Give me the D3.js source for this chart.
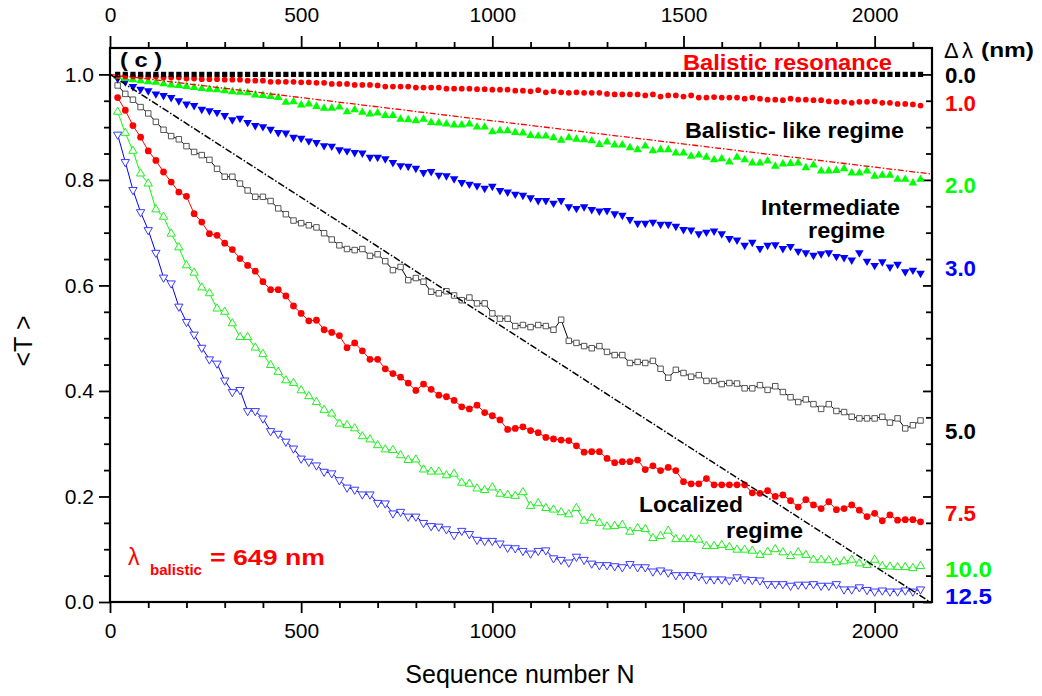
<!DOCTYPE html>
<html>
<head>
<meta charset="utf-8">
<script src="https://cdn.jsdelivr.net/npm/d3@7"></script>
<style>
  body { margin: 0; background: #fff; }
  text { font-family: "Liberation Sans", Arial, sans-serif; }
</style>
</head>
<body>
<div id="chart"></div>
<script>
// sequence numbers of the sampled points (every 20th sequence)
var seqNumbers = d3.range(20, 2121, 20);

// <T> for each detuning (nm)
var t00 = [
  1,1,1,1,1,1,1,1,1,1, 1,1,1,1,1,1,1,1,1,1, 1,1,1,1,1,1,1,1,1,1,
  1,1,1,1,1,1,1,1,1,1, 1,1,1,1,1,1,1,1,1,1, 1,1,1,1,1,1,1,1,1,1,
  1,1,1,1,1,1,1,1,1,1, 1,1,1,1,1,1,1,1,1,1, 1,1,1,1,1,1,1,1,1,1,
  1,1,1,1,1,1,1,1,1,1, 1,1,1,1,1,1
];
var t10 = [
  0.997,0.996,0.996,0.996,0.996,0.996,0.994,0.994,0.994,0.992,
  0.992,0.991,0.991,0.991,0.990,0.990,0.990,0.988,0.988,0.988,
  0.986,0.986,0.986,0.986,0.985,0.985,0.984,0.984,0.982,0.982,
  0.982,0.980,0.980,0.980,0.979,0.977,0.977,0.977,0.977,0.975,
  0.975,0.975,0.975,0.973,0.973,0.973,0.973,0.972,0.972,0.971,
  0.971,0.971,0.969,0.969,0.968,0.970,0.966,0.968,0.966,0.965,
  0.966,0.965,0.965,0.965,0.963,0.962,0.962,0.962,0.962,0.960,
  0.962,0.958,0.960,0.960,0.958,0.960,0.956,0.956,0.957,0.956,
  0.956,0.956,0.954,0.956,0.954,0.952,0.952,0.951,0.954,0.952,
  0.952,0.951,0.951,0.949,0.948,0.948,0.946,0.948,0.948,0.949,
  0.946,0.946,0.944,0.944,0.943,0.941
];
var t20 = [
  0.996,0.992,0.990,0.988,0.986,0.985,0.982,0.980,0.979,0.977,
  0.975,0.973,0.972,0.971,0.969,0.967,0.966,0.965,0.961,0.960,
  0.958,0.956,0.947,0.948,0.942,0.944,0.939,0.936,0.936,0.938,
  0.929,0.933,0.928,0.925,0.927,0.922,0.922,0.915,0.914,0.912,
  0.915,0.909,0.908,0.906,0.904,0.904,0.906,0.900,0.900,0.891,
  0.893,0.893,0.890,0.889,0.884,0.883,0.883,0.880,0.875,0.880,
  0.877,0.876,0.874,0.867,0.872,0.866,0.866,0.861,0.857,0.864,
  0.855,0.857,0.857,0.851,0.851,0.845,0.847,0.843,0.838,0.840,
  0.834,0.843,0.838,0.832,0.832,0.836,0.826,0.830,0.831,0.832,
  0.823,0.828,0.817,0.817,0.818,0.821,0.813,0.813,0.817,0.807,
  0.809,0.809,0.801,0.801,0.794,0.801
];
var t30 = [
  0.992,0.986,0.977,0.972,0.969,0.963,0.960,0.956,0.950,0.944,
  0.941,0.934,0.931,0.928,0.922,0.914,0.917,0.909,0.903,0.901,
  0.896,0.890,0.889,0.881,0.879,0.874,0.871,0.865,0.864,0.857,
  0.855,0.852,0.851,0.843,0.843,0.840,0.833,0.827,0.826,0.822,
  0.814,0.816,0.809,0.808,0.802,0.795,0.792,0.789,0.784,0.788,
  0.780,0.777,0.773,0.771,0.766,0.761,0.761,0.756,0.761,0.749,
  0.746,0.749,0.744,0.741,0.742,0.736,0.733,0.725,0.718,0.718,
  0.720,0.716,0.716,0.712,0.706,0.705,0.698,0.701,0.703,0.698,
  0.689,0.686,0.676,0.682,0.670,0.676,0.677,0.670,0.674,0.665,
  0.662,0.657,0.660,0.662,0.655,0.653,0.648,0.662,0.646,0.638,
  0.645,0.635,0.640,0.626,0.629,0.623
];
var t50 = [
  0.979,0.963,0.952,0.938,0.926,0.910,0.895,0.883,0.877,0.864,
  0.853,0.847,0.838,0.821,0.806,0.806,0.793,0.780,0.768,0.768,
  0.760,0.746,0.735,0.723,0.718,0.714,0.710,0.699,0.687,0.676,
  0.669,0.667,0.669,0.656,0.659,0.646,0.629,0.635,0.610,0.614,
  0.607,0.588,0.585,0.589,0.581,0.572,0.577,0.566,0.566,0.547,
  0.537,0.537,0.523,0.525,0.521,0.525,0.523,0.516,0.535,0.495,
  0.491,0.485,0.481,0.485,0.474,0.468,0.468,0.453,0.455,0.453,
  0.457,0.442,0.425,0.440,0.434,0.427,0.430,0.419,0.419,0.413,
  0.415,0.414,0.405,0.405,0.411,0.402,0.409,0.398,0.388,0.379,
  0.384,0.375,0.366,0.375,0.362,0.360,0.351,0.348,0.348,0.348,
  0.351,0.340,0.348,0.329,0.335,0.344
];
var t75 = [
  0.956,0.932,0.903,0.881,0.855,0.837,0.815,0.796,0.777,0.769,
  0.736,0.720,0.698,0.695,0.680,0.668,0.651,0.638,0.627,0.607,
  0.592,0.592,0.580,0.561,0.547,0.533,0.534,0.516,0.511,0.505,
  0.482,0.491,0.476,0.460,0.460,0.442,0.433,0.426,0.415,0.401,
  0.413,0.403,0.392,0.389,0.382,0.370,0.366,0.373,0.359,0.353,
  0.345,0.327,0.329,0.332,0.325,0.321,0.312,0.309,0.307,0.306,
  0.296,0.284,0.285,0.285,0.272,0.264,0.266,0.266,0.269,0.251,
  0.258,0.249,0.255,0.249,0.228,0.224,0.224,0.234,0.222,0.222,
  0.222,0.222,0.222,0.207,0.206,0.211,0.200,0.203,0.192,0.180,
  0.194,0.184,0.177,0.190,0.175,0.177,0.184,0.174,0.162,0.168,
  0.154,0.165,0.155,0.156,0.156,0.152
];
var t100 = [
  0.929,0.889,0.855,0.812,0.793,0.744,0.730,0.698,0.672,0.638,
  0.624,0.596,0.585,0.556,0.550,0.528,0.502,0.502,0.482,0.470,
  0.449,0.436,0.420,0.415,0.401,0.390,0.379,0.364,0.357,0.338,
  0.335,0.329,0.314,0.308,0.297,0.289,0.288,0.278,0.269,0.270,
  0.251,0.247,0.247,0.240,0.243,0.226,0.224,0.215,0.212,0.217,
  0.205,0.203,0.201,0.208,0.182,0.187,0.178,0.175,0.170,0.166,
  0.178,0.154,0.159,0.150,0.143,0.144,0.146,0.133,0.140,0.138,
  0.121,0.125,0.135,0.119,0.119,0.119,0.118,0.106,0.106,0.108,
  0.104,0.099,0.099,0.097,0.089,0.095,0.100,0.094,0.087,0.094,
  0.089,0.080,0.080,0.079,0.075,0.077,0.080,0.073,0.070,0.080,
  0.068,0.067,0.066,0.066,0.064,0.068
];
var t125 = [
  0.886,0.834,0.781,0.739,0.705,0.662,0.615,0.604,0.560,0.531,
  0.507,0.482,0.460,0.452,0.420,0.398,0.402,0.362,0.362,0.348,
  0.324,0.319,0.304,0.291,0.272,0.266,0.259,0.247,0.244,0.231,
  0.217,0.213,0.204,0.204,0.188,0.187,0.168,0.171,0.162,0.162,
  0.150,0.144,0.143,0.138,0.127,0.135,0.129,0.118,0.116,0.116,
  0.111,0.103,0.102,0.097,0.092,0.097,0.098,0.083,0.080,0.075,
  0.086,0.080,0.073,0.070,0.070,0.068,0.066,0.072,0.066,0.066,
  0.058,0.060,0.056,0.051,0.051,0.051,0.049,0.043,0.043,0.043,
  0.041,0.047,0.043,0.042,0.041,0.034,0.034,0.034,0.031,0.033,
  0.033,0.034,0.031,0.031,0.034,0.024,0.024,0.028,0.023,0.020,
  0.022,0.020,0.020,0.022,0.020,0.024
];

// straight reference lines (end points)
var ballisticLine = [[0, 1.0], [2150, 0.811]];
var localizedLine = [[0, 1.0], [2145, 0.0]];

// detuning labels on the right
var detuningLabels = ["0.0", "1.0", "2.0", "3.0", "5.0", "7.5", "10.0", "12.5"];

// axis ticks
var xMajorTicks = [0, 500, 1000, 1500, 2000];
var xMinorTicks = [100, 200, 300, 400, 600, 700, 800, 900, 1100, 1200, 1300, 1400, 1600, 1700, 1800, 1900, 2100];
var yMajorTicks = [0.0, 0.2, 0.4, 0.6, 0.8, 1.0];
var yMinorTicks = [0.05, 0.1, 0.15, 0.25, 0.3, 0.35, 0.45, 0.5, 0.55, 0.65, 0.7, 0.75, 0.85, 0.9, 0.95];

var RED = "#ff0000", GREEN = "#00ff00", BLUE = "#0000ff";

var svgWidth = 1042, svgHeight = 696;
var margin = {top: 48, right: 110, bottom: 94, left: 110};

var svg = d3.select("#chart").append("svg")
    .attr("width", svgWidth)
    .attr("height", svgHeight);

var x = d3.scaleLinear().domain([0, 2150]).range([margin.left, svgWidth - margin.right]);
var y = d3.scaleLinear().domain([0, 1.05]).range([svgHeight - margin.bottom, margin.top]);

var font = "'Liberation Sans', Arial, sans-serif";

function styleAxis(g, fontSize) {
    g.select(".domain").remove();
    g.selectAll("line").attr("stroke", "#000").attr("stroke-width", 1.8);
    g.selectAll("text").attr("font-family", font).attr("font-size", fontSize).attr("fill", "#000");
}

// axes: ticks outward on left, bottom and top; inward on the right
svg.append("g").attr("transform", "translate(0," + y(0) + ")")
    .call(d3.axisBottom(x).tickValues(xMajorTicks).tickSize(11).tickPadding(10).tickFormat(d3.format("d")))
    .call(styleAxis, 21);
svg.append("g").attr("transform", "translate(0," + y(0) + ")")
    .call(d3.axisBottom(x).tickValues(xMinorTicks).tickSize(6).tickFormat(""))
    .call(styleAxis, 21);
svg.append("g").attr("transform", "translate(0," + margin.top + ")")
    .call(d3.axisTop(x).tickValues(xMajorTicks).tickSize(12).tickPadding(14).tickFormat(d3.format("d")))
    .call(styleAxis, 21);
svg.append("g").attr("transform", "translate(0," + margin.top + ")")
    .call(d3.axisTop(x).tickValues(xMinorTicks).tickSize(6).tickFormat(""))
    .call(styleAxis, 21);
svg.append("g").attr("transform", "translate(" + margin.left + ",0)")
    .call(d3.axisLeft(y).tickValues(yMajorTicks).tickSize(11).tickPadding(5).tickFormat(d3.format(".1f")))
    .call(styleAxis, 21);
svg.append("g").attr("transform", "translate(" + margin.left + ",0)")
    .call(d3.axisLeft(y).tickValues(yMinorTicks).tickSize(6).tickFormat(""))
    .call(styleAxis, 21);
svg.append("g").attr("transform", "translate(" + x.range()[1] + ",0)")
    .call(d3.axisRight(y).tickValues(yMajorTicks).tickSize(-9).tickFormat(""))
    .call(styleAxis, 21);
svg.append("g").attr("transform", "translate(" + x.range()[1] + ",0)")
    .call(d3.axisRight(y).tickValues(yMinorTicks).tickSize(-6).tickFormat(""))
    .call(styleAxis, 21);

// frame
svg.append("rect")
    .attr("x", x.range()[0]).attr("y", y.range()[1])
    .attr("width", x.range()[1] - x.range()[0])
    .attr("height", y.range()[0] - y.range()[1])
    .attr("fill", "none").attr("stroke", "#000").attr("stroke-width", 2.2);

// series, drawn from the bottom curve up
var series = [
    {values: t125, color: BLUE, stroke: "#3a3aff", shape: d3.symbolTriangle, size: 30, flip: true, hollow: true, joined: true},
    {values: t100, color: GREEN, stroke: "#22ee22", shape: d3.symbolTriangle, size: 30, flip: false, hollow: true, joined: true},
    {values: t75, color: RED, stroke: RED, shape: d3.symbolCircle, size: 36, flip: false, hollow: false, joined: true},
    {values: t50, color: "#000", stroke: "#555", shape: d3.symbolSquare, size: 30, flip: false, hollow: true, joined: true},
    {values: t30, color: BLUE, stroke: BLUE, shape: d3.symbolTriangle, size: 32, flip: true, hollow: false, joined: false},
    {values: t20, color: GREEN, stroke: GREEN, shape: d3.symbolTriangle, size: 32, flip: false, hollow: false, joined: false},
    {values: t10, color: RED, stroke: RED, shape: d3.symbolCircle, size: 26, flip: false, hollow: false, joined: false},
    {values: t00, color: "#000", stroke: "#000", shape: d3.symbolSquare, size: 27, flip: false, hollow: false, joined: false}
];

var line = d3.line()
    .x(function(d) { return x(d[0]); })
    .y(function(d) { return y(d[1]); });

var plot = svg.append("g");

series.forEach(function(s) {
    var pts = seqNumbers.map(function(n, i) { return [n, s.values[i]]; });
    if (s.joined) {
        plot.append("path")
            .datum(pts)
            .attr("d", line)
            .attr("fill", "none")
            .attr("stroke", s.color)
            .attr("stroke-width", 1);
    }
    plot.append("g").selectAll("path")
        .data(pts)
        .enter()
        .append("path")
        .attr("d", d3.symbol().type(s.shape).size(s.size))
        .attr("transform", function(d) {
            return "translate(" + x(d[0]) + "," + y(d[1]) + ")" + (s.flip ? " rotate(180)" : "");
        })
        .attr("fill", s.hollow ? "#fff" : s.color)
        .attr("stroke", s.hollow ? s.stroke : "none")
        .attr("stroke-width", 1);
});

// dash-dot reference lines
plot.append("path").datum(ballisticLine).attr("d", line)
    .attr("fill", "none").attr("stroke", RED).attr("stroke-width", 1.3)
    .attr("stroke-dasharray", "6,2,1.5,2");
plot.append("path").datum(localizedLine).attr("d", line)
    .attr("fill", "none").attr("stroke", "#000").attr("stroke-width", 1.5)
    .attr("stroke-dasharray", "7,2,1.5,2");

// annotations
function label(txt, px, py, size, color, width, weight) {
    var t = svg.append("text")
        .attr("x", px).attr("y", py)
        .attr("font-family", font)
        .attr("font-size", size)
        .attr("font-weight", weight || "bold")
        .attr("fill", color)
        .text(txt);
    if (width) t.attr("textLength", width).attr("lengthAdjust", "spacingAndGlyphs");
    return t;
}

label("( c )", 120, 67, 20, "#000", 42);
label("Balistic resonance", 683, 70, 22, RED, 209);
label("Balistic- like regime", 685, 138, 22, "#000", 219);
label("Intermediate", 761, 215, 22, "#000", 139);
label("regime", 808, 238, 22, "#000", 77);
label("Localized", 639, 512, 22, "#000", 104);
label("regime", 726, 538, 22, "#000", 77);
label("\u03bb", 128, 565, 23, RED, null, "normal");
label("balistic", 150, 575, 15, RED, 52);
label("= 649 nm", 210, 565, 22, RED, 115);

// right side legend
label("\u0394", 944, 58, 22, "#000", null, "normal");
label("\u03bb", 962, 58, 22, "#000", null, "normal");
label("(nm)", 981, 57, 21, "#000", 53);

var labelColors = ["#000", RED, GREEN, BLUE, "#000", RED, GREEN, BLUE];
var labelBaselines = [83, 111, 193, 276, 439, 521, 577, 604];
detuningLabels.forEach(function(d, i) {
    label(d, 945, labelBaselines[i], 22, labelColors[i], d.length > 3 ? 47 : 31);
});

// axis titles
svg.append("text")
    .attr("x", 520).attr("y", 683)
    .attr("text-anchor", "middle")
    .attr("font-family", font).attr("font-size", 25)
    .text("Sequence number N");
svg.append("text")
    .attr("transform", "translate(32,341) rotate(-90)")
    .attr("text-anchor", "middle")
    .attr("font-family", font).attr("font-size", 25)
    .text("<T >");
</script>
</body>
</html>
